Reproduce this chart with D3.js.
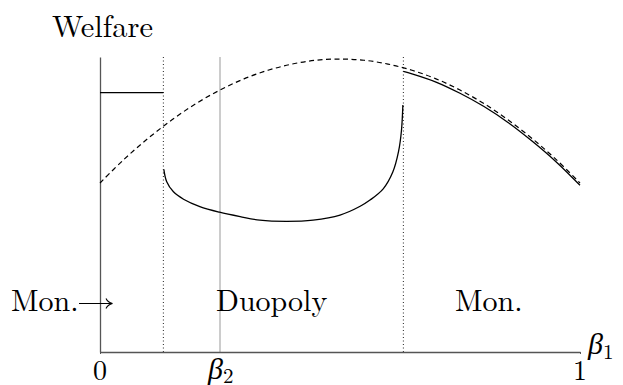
<!DOCTYPE html>
<html lang="en">
  <head>
    <meta charset="UTF-8">
    <script src="https://d3js.org/d3.v7.min.js"></script>
    <style>
      body { margin: 0; background: #fff; }
    </style>
  </head>
  <body>
    <div id="chart"></div>

    <script>
      // welfare, beta1 on [0,1]
      const dashX = [0, 0.05, 0.1, 0.15, 0.2, 0.25, 0.3, 0.35, 0.4, 0.45, 0.5,
                     0.55, 0.6, 0.65, 0.7, 0.75, 0.8, 0.85, 0.9, 0.95, 1];
      const dashW = [0.573, 0.653, 0.724, 0.787, 0.842, 0.888, 0.926, 0.955, 0.976, 0.989, 0.993,
                     0.989, 0.976, 0.955, 0.926, 0.888, 0.842, 0.787, 0.724, 0.653, 0.573];

      // duopoly region
      const duoX = [0.133, 0.139, 0.153, 0.174, 0.208, 0.249, 0.292, 0.333, 0.389, 0.444,
                    0.5, 0.542, 0.5625, 0.59, 0.61, 0.622, 0.628, 0.631];
      const duoW = [0.619, 0.577, 0.543, 0.518, 0.493, 0.474, 0.459, 0.447, 0.443, 0.447,
                    0.464, 0.494, 0.515, 0.553, 0.610, 0.680, 0.750, 0.837];

      // monopoly region on the right
      const monX = [0.632, 0.65, 0.7, 0.75, 0.8, 0.85, 0.9, 0.95, 1];
      const monW = [0.951, 0.943, 0.915, 0.877, 0.832, 0.778, 0.715, 0.645, 0.565];

      // monopoly welfare on the left (flat)
      const leftMonW = 0.879;

      const cutoffs = [0.132, 0.632];
      const beta2 = 0.25;
      const regionLabels = ["Mon.", "Duopoly", "Mon."];
      const tickLabels = ["0", "1"];

      const roman = '"Latin Modern Roman", "Liberation Serif", serif';
      const greek = '"Liberation Serif", "FreeSerif", serif';

      const width = 623, height = 385;
      const svg = d3.select("#chart").append("svg")
        .attr("width", width)
        .attr("height", height);

      const x = d3.scaleLinear().domain([0, 1]).range([100, 580]);
      const y = d3.scaleLinear().domain([0, 1]).range([352, 57]);

      // vertical guides
      svg.selectAll(".cut")
        .data(cutoffs)
        .join("line")
        .attr("x1", d => x(d)).attr("x2", d => x(d))
        .attr("y1", y(0)).attr("y2", y(1))
        .attr("stroke", "#222")
        .attr("stroke-width", 1)
        .attr("stroke-dasharray", "1,2.5");

      svg.append("line")
        .attr("x1", x(beta2)).attr("x2", x(beta2))
        .attr("y1", y(0)).attr("y2", y(1))
        .attr("stroke", "#aaa")
        .attr("stroke-width", 1.2);

      // axes
      const xAxis = svg.append("g")
        .attr("transform", `translate(0,${y(0)})`)
        .call(d3.axisBottom(x).tickValues([0, 1]).tickSize(2).tickSizeOuter(0).tickFormat(""));
      xAxis.select(".domain").attr("stroke", "#555").attr("stroke-width", 1.3);
      xAxis.selectAll(".tick line").attr("stroke", "#555");

      const yAxis = svg.append("g")
        .attr("transform", `translate(${x(0)},0)`)
        .call(d3.axisLeft(y).tickValues([]).tickSizeOuter(0));
      yAxis.select(".domain").attr("stroke", "#555").attr("stroke-width", 1.3);

      // curves
      const line = d3.line()
        .x(d => x(d[0]))
        .y(d => y(d[1]))
        .curve(d3.curveCatmullRom.alpha(0.5));

      svg.append("path")
        .attr("d", line(dashX.map((v, i) => [v, dashW[i]])))
        .attr("fill", "none")
        .attr("stroke", "#000")
        .attr("stroke-width", 1.2)
        .attr("stroke-dasharray", "5,3.5");

      svg.append("path")
        .attr("d", line(duoX.map((v, i) => [v, duoW[i]])))
        .attr("fill", "none")
        .attr("stroke", "#000")
        .attr("stroke-width", 1.3);

      svg.append("path")
        .attr("d", line(monX.map((v, i) => [v, monW[i]])))
        .attr("fill", "none")
        .attr("stroke", "#000")
        .attr("stroke-width", 1.3);

      svg.append("line")
        .attr("x1", x(0)).attr("x2", x(cutoffs[0]))
        .attr("y1", y(leftMonW)).attr("y2", y(leftMonW))
        .attr("stroke", "#000")
        .attr("stroke-width", 1.3);

      // text
      svg.append("text")
        .attr("x", 52).attr("y", 37)
        .style("font-family", roman)
        .style("font-size", "30.5px")
        .text("Welfare");

      const labelX = [11, 216, 455];
      svg.selectAll(".region")
        .data(regionLabels)
        .join("text")
        .attr("x", (d, i) => labelX[i])
        .attr("y", 311)
        .style("font-family", roman)
        .style("font-size", "30px")
        .text(d => d);

      // arrow after the left "Mon." label
      const ay = 303.5;
      svg.append("path")
        .attr("d", `M79,${ay}H112M106,${ay - 5}Q108,${ay - 1} 112.5,${ay}Q108,${ay + 1} 106,${ay + 5}`)
        .attr("fill", "none")
        .attr("stroke", "#000")
        .attr("stroke-width", 1.1);

      svg.selectAll(".tickLab")
        .data(tickLabels)
        .join("text")
        .attr("x", (d, i) => x(i))
        .attr("y", 380)
        .attr("text-anchor", "middle")
        .style("font-family", roman)
        .style("font-size", "28px")
        .text(d => d);

      const b2 = svg.append("text")
        .attr("x", x(beta2) - 12).attr("y", 379)
        .style("font-family", greek)
        .style("font-size", "30px");
      b2.append("tspan").style("font-style", "italic").text("\u03b2");
      b2.append("tspan").attr("dy", 4).style("font-family", roman).style("font-size", "21px").text("2");

      const b1 = svg.append("text")
        .attr("x", 588).attr("y", 354)
        .style("font-family", greek)
        .style("font-size", "30px");
      b1.append("tspan").style("font-style", "italic").text("\u03b2");
      b1.append("tspan").attr("dy", 5).style("font-family", roman).style("font-size", "21px").text("1");
    </script>
  </body>
</html>
